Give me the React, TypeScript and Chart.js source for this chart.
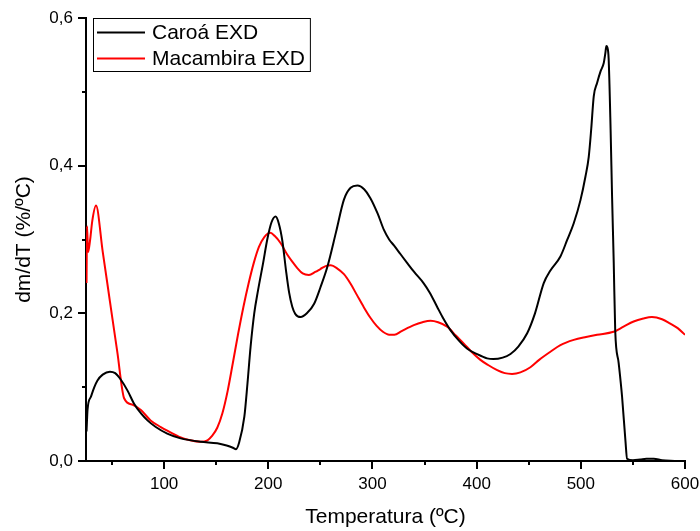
import React, { useEffect, useRef } from 'react';
import { Chart, registerables } from 'chart.js';

Chart.register(...registerables);

// ---- Data ----
const caroaTemp = [
  25.5, 26.5, 29.7, 33, 36, 41, 48, 53, 58.5, 65, 71, 78, 84, 92, 103, 115, 135, 151, 160, 166, 169,
  172, 177, 180, 183, 186.5, 190, 195, 199, 203, 207, 210, 213.5, 217, 220, 223, 226, 231, 237, 244, 250,
  256.7, 265, 272.6, 279, 285.5, 292, 298, 305, 311, 316, 320.6, 327, 333.4, 340, 349, 355, 362, 368,
  375, 383, 391, 400, 410, 416, 425, 432.5, 440, 448.5, 456, 464.4, 470.8, 480.4, 486.8, 493.2, 499.6,
  504.4, 507.6, 510, 512.4, 515.6, 519, 522, 523.5, 524.5, 525.5, 526.7, 528.6, 530, 531.6, 533, 536.3,
  539.6, 542.8, 544.4, 550, 557, 563, 570, 578, 590,
];
const caroaRate = [
  0.04, 0.07, 0.087, 0.1, 0.109, 0.117, 0.121, 0.119, 0.11, 0.095, 0.078, 0.064, 0.055, 0.046, 0.037,
  0.031, 0.026, 0.024, 0.021, 0.018, 0.016, 0.025, 0.06, 0.105, 0.155, 0.2, 0.23, 0.268, 0.3, 0.323,
  0.331, 0.322, 0.298, 0.258, 0.228, 0.209, 0.199, 0.195, 0.2, 0.213, 0.235, 0.263, 0.31, 0.354, 0.37, 0.373, 0.368,
  0.356, 0.335, 0.313, 0.3, 0.292, 0.28, 0.268, 0.256, 0.241, 0.228, 0.209, 0.193, 0.177, 0.163, 0.152,
  0.145, 0.139, 0.138, 0.14, 0.145, 0.155, 0.173, 0.2, 0.241, 0.258, 0.277, 0.299, 0.322, 0.353, 0.385,
  0.412, 0.45, 0.494, 0.512, 0.528, 0.539, 0.552, 0.562, 0.56, 0.545, 0.448, 0.358, 0.268, 0.177, 0.133,
  0.087, 0.028, 0.003, 0.001, 0.002, 0.003, 0.003, 0.001, 0.0,
];

const macambiraTemp = [
  25.5, 26, 27, 29, 31, 34.6, 41, 48, 55, 61.6, 70, 77.7, 87, 96.8, 103, 114, 125, 135, 141.6, 146, 151,
  156, 161, 166, 171, 176, 181, 186, 191, 196, 202, 206, 211.9, 218, 223, 228, 233, 239, 245,
  250, 255, 260, 266, 272.6, 279, 285, 291.8, 298, 304, 310, 316, 321, 328, 339.7, 348, 355.8, 363,
  371.7, 380, 387.7, 395, 403.6, 411, 419.7, 427, 434, 442, 451.6, 460, 470.8, 480.4, 493.2, 505, 515.6,
  531.5, 541, 550.7, 560, 568.3, 578, 586, 593, 600,
];
const macambiraRate = [
  0.241, 0.318, 0.283, 0.3, 0.325, 0.346, 0.284, 0.216, 0.148, 0.085, 0.076, 0.069, 0.055, 0.046, 0.041,
  0.033, 0.028, 0.026, 0.028, 0.034, 0.045, 0.065, 0.095, 0.133, 0.172, 0.208, 0.24, 0.268, 0.29,
  0.303, 0.309, 0.305, 0.295, 0.28, 0.27, 0.261, 0.254, 0.252, 0.256, 0.26, 0.264, 0.265, 0.261,
  0.253, 0.24, 0.225, 0.208, 0.194, 0.183, 0.175, 0.171, 0.171, 0.176, 0.184, 0.188, 0.19, 0.188, 0.182,
  0.17, 0.159, 0.148, 0.137, 0.13, 0.123, 0.119, 0.118, 0.12, 0.127, 0.137, 0.148, 0.157, 0.164, 0.168,
  0.171, 0.175, 0.182, 0.189, 0.193, 0.195, 0.192, 0.186, 0.18, 0.171,
];

const seriesNames = ['Caroá EXD', 'Macambira EXD'];
const seriesColors = ['#000000', '#ff0000'];

const xMajorTicks = [100, 200, 300, 400, 500, 600];
const xMinorTicks = [50, 150, 250, 350, 450, 550];
const yMajorTicks = [0, 0.2, 0.4, 0.6];
const yMinorTicks = [0.1, 0.3, 0.5];

const xTitle = 'Temperatura (ºC)';
const yTitle = 'dm/dT (%/ºC)';

const FONT = 'Arial, "Liberation Sans", sans-serif';

const minorTicksPlugin = {
  id: 'minorTicks',
  afterDraw(chart: any) {
    const { ctx } = chart;
    const xs = chart.scales.x;
    const ys = chart.scales.y;
    ctx.save();
    ctx.strokeStyle = '#000';
    ctx.lineWidth = 2;
    xMinorTicks.forEach((v) => {
      const px = Math.round(xs.getPixelForValue(v));
      ctx.beginPath();
      ctx.moveTo(px, xs.top);
      ctx.lineTo(px, xs.top + 4);
      ctx.stroke();
    });
    yMinorTicks.forEach((v) => {
      const py = Math.round(ys.getPixelForValue(v));
      ctx.beginPath();
      ctx.moveTo(ys.right - 4, py);
      ctx.lineTo(ys.right, py);
      ctx.stroke();
    });
    ctx.restore();
  },
};

const boxLegendPlugin = {
  id: 'boxLegend',
  afterDraw(chart: any) {
    const { ctx, chartArea } = chart;
    ctx.save();
    ctx.font = `21px ${FONT}`;
    const textW = Math.max(...seriesNames.map((n) => ctx.measureText(n).width));
    const left = chartArea.left + 7;
    const top = chartArea.top;
    const w = 59 + textW + 5;
    const h = 53;
    ctx.fillStyle = '#fff';
    ctx.fillRect(left, top, w, h);
    ctx.strokeStyle = '#000';
    ctx.lineWidth = 1;
    ctx.strokeRect(left + 0.5, top + 0.5, w, h);
    seriesNames.forEach((name, i) => {
      const y = top + 14.5 + i * 26;
      ctx.strokeStyle = seriesColors[i];
      ctx.lineWidth = 2;
      ctx.beginPath();
      ctx.moveTo(left + 4, y);
      ctx.lineTo(left + 52, y);
      ctx.stroke();
      ctx.fillStyle = '#000';
      ctx.textBaseline = 'middle';
      ctx.textAlign = 'left';
      ctx.fillText(name, left + 59, y + 1);
    });
    ctx.restore();
  },
};

export default function App() {
  const ref = useRef<HTMLCanvasElement>(null);

  useEffect(() => {
    const datasets = [
      { temps: caroaTemp, rates: caroaRate },
      { temps: macambiraTemp, rates: macambiraRate },
    ].map((s, i) => ({
      label: seriesNames[i],
      data: s.temps.map((t, k) => ({ x: t, y: s.rates[k] })),
      borderColor: seriesColors[i],
      backgroundColor: seriesColors[i],
      borderWidth: 2,
      pointRadius: 0,
      fill: false,
      cubicInterpolationMode: 'monotone' as const,
    }));

    const chart = new Chart(ref.current!, {
      type: 'line',
      data: { datasets },
      options: {
        animation: false,
        responsive: false,
        maintainAspectRatio: false,
        layout: { padding: { left: 0, top: 18, right: 15, bottom: 0 } },
        plugins: { legend: { display: false }, tooltip: { enabled: false } },
        scales: {
          x: {
            type: 'linear',
            min: 25,
            max: 600,
            afterBuildTicks: (s: any) => {
              s.ticks = xMajorTicks.map((v) => ({ value: v }));
            },
            afterFit: (s: any) => {
              s.height = 70;
              s.paddingLeft = 0;
              s.paddingRight = 0;
            },
            ticks: {
              color: '#000',
              font: { family: FONT, size: 17 },
              padding: 5,
              maxRotation: 0,
              autoSkip: false,
              callback: (v: any) => String(v),
            },
            grid: {
              drawOnChartArea: false,
              drawTicks: true,
              tickLength: 8,
              color: '#000',
              lineWidth: 2,
            },
            border: { display: true, color: '#000', width: 2 },
            title: {
              display: true,
              text: xTitle,
              color: '#000',
              font: { family: FONT, size: 21 },
              padding: { top: 0, bottom: 1 },
            },
          },
          y: {
            type: 'linear',
            min: 0,
            max: 0.6,
            afterBuildTicks: (s: any) => {
              s.ticks = yMajorTicks.map((v) => ({ value: v }));
            },
            afterFit: (s: any) => {
              s.width = 86;
              s.paddingTop = 0;
              s.paddingBottom = 0;
            },
            ticks: {
              color: '#000',
              font: { family: FONT, size: 17 },
              padding: 5,
              callback: (v: any) => Number(v).toFixed(1).replace('.', ','),
            },
            grid: {
              drawOnChartArea: false,
              drawTicks: true,
              tickLength: 8,
              color: '#000',
              lineWidth: 2,
            },
            border: { display: true, color: '#000', width: 2 },
            title: {
              display: true,
              text: yTitle,
              color: '#000',
              font: { family: FONT, size: 21 },
              padding: { top: 12, bottom: 0 },
            },
          },
        },
      },
      plugins: [minorTicksPlugin, boxLegendPlugin],
    });
    return () => chart.destroy();
  }, []);

  return (
    <div style={{ position: 'fixed', left: 0, top: 0, width: 700, height: 531, background: '#fff' }}>
      <canvas ref={ref} width={700} height={531} style={{ display: 'block' }} />
    </div>
  );
}
